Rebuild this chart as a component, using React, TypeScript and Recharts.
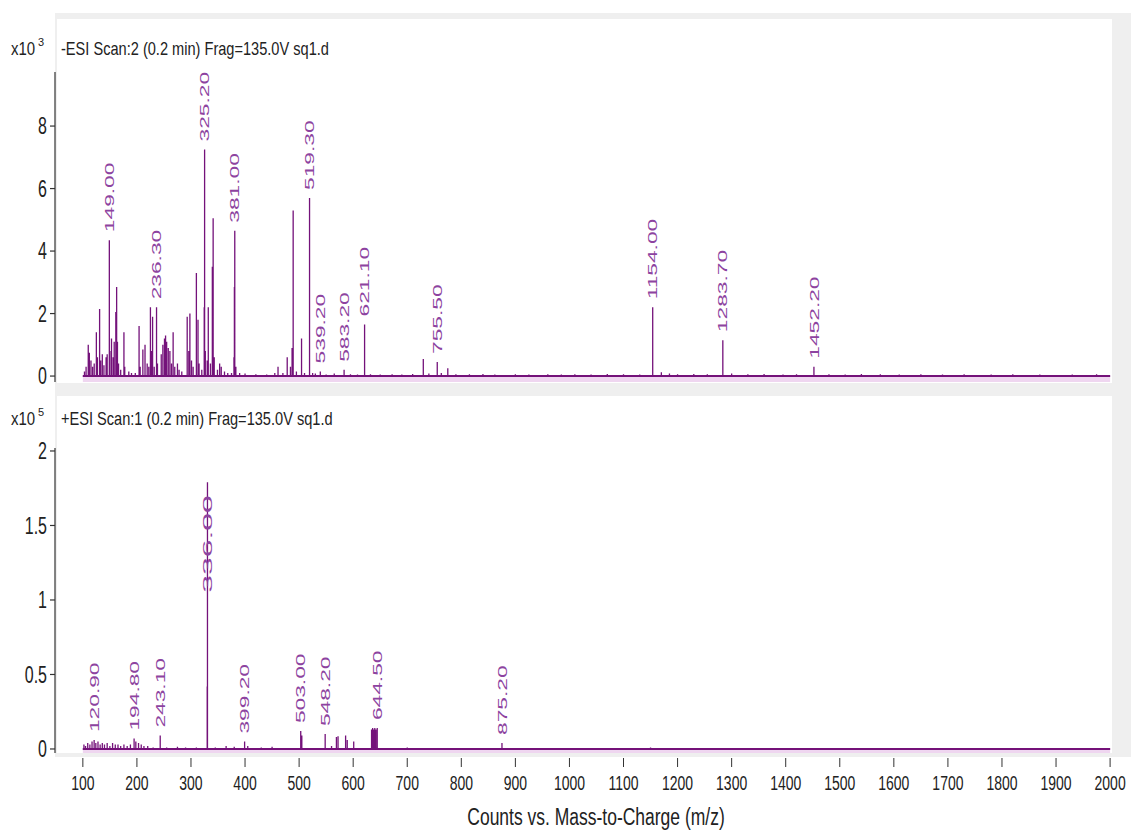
import React from 'react';
import {
    ComposedChart,
    Line,
    Scatter,
    XAxis,
    YAxis,
    ReferenceArea,
    ReferenceLine,
} from 'recharts';

const FONT = '"Liberation Sans", Arial, sans-serif';
const STICK = '#74127a';
const LABEL = '#8d43a0';
const PINK = '#efd6f0';
const AXIS = '#333333';

// -ESI Scan:2, counts x10^3
const negMz = [
    103, 106, 110, 112, 115, 118, 121, 125, 127, 131, 133, 136, 139, 143, 145, 149, 150, 153, 156, 158,
    161, 162.5, 164, 166, 170, 176, 177.5, 185, 190, 197, 204, 206, 211, 215, 219, 222, 225, 227, 229, 232,
    236.3, 238, 245, 248, 251, 253, 255, 258, 261, 264, 267, 270, 275, 278, 283, 293, 296, 298, 301, 304,
    310, 313, 315, 320, 324.5, 325.2, 326.5, 330, 332, 336, 339.5, 341, 343, 349, 353, 356, 362, 368, 375, 379.5,
    380.3, 381, 383, 390, 400, 420, 440, 455, 461, 470, 478, 484, 487, 489, 495, 504.5, 510, 519.3, 525, 530,
    539.2, 550, 565, 583.2, 595, 608, 621.1, 632, 650, 672, 690, 710, 729.7, 740, 755.5, 763, 775, 790, 815, 840,
    862, 900, 925, 960, 985, 1010, 1040, 1070, 1100, 1130, 1154, 1170, 1185, 1200, 1230, 1255, 1283.7, 1300, 1330, 1360,
    1395, 1420, 1452.2, 1480, 1510, 1540, 1575, 1610, 1650, 1690, 1730, 1780, 1820, 1870, 1930, 1975,
];
const negInt = [
    0.15, 0.3, 1.0, 0.75, 0.5, 0.3, 0.4, 1.4, 0.6, 2.15, 0.5, 0.7, 0.35, 0.6, 0.7, 4.35, 0.8, 1.2, 0.6, 1.1,
    2.05, 2.85, 1.1, 0.4, 0.2, 1.4, 0.3, 0.15, 0.1, 0.1, 1.6, 0.3, 0.85, 1.0, 0.4, 0.3, 2.2, 0.8, 1.9, 0.3,
    2.2, 0.4, 0.7, 1.0, 1.2, 1.3, 1.1, 0.9, 0.8, 0.4, 1.4, 0.3, 0.4, 0.2, 0.15, 1.9, 0.8, 2.0, 0.5, 0.3,
    3.3, 1.8, 0.4, 0.2, 2.2, 7.25, 0.8, 0.5, 2.2, 0.4, 3.5, 5.05, 0.6, 0.2, 0.4, 0.3, 0.15, 0.1, 0.1, 0.6,
    2.85, 4.65, 0.3, 0.1, 0.08, 0.06, 0.05, 0.1, 0.3, 0.1, 0.6, 0.3, 0.9, 5.3, 0.15, 1.2, 0.1, 5.7, 0.1, 0.08,
    0.15, 0.05, 0.08, 0.2, 0.06, 0.05, 1.65, 0.06, 0.05, 0.06, 0.05, 0.07, 0.55, 0.08, 0.45, 0.1, 0.25, 0.06, 0.06, 0.07,
    0.05, 0.06, 0.05, 0.06, 0.05, 0.06, 0.05, 0.07, 0.06, 0.05, 2.2, 0.12, 0.08, 0.06, 0.07, 0.06, 1.15, 0.08, 0.06, 0.07,
    0.05, 0.06, 0.3, 0.06, 0.05, 0.07, 0.06, 0.05, 0.06, 0.05, 0.06, 0.05, 0.06, 0.05, 0.05, 0.06,
];
const negLabelMz = [149, 236.3, 325.2, 381, 519.3, 539.2, 583.2, 621.1, 755.5, 1154, 1283.7, 1452.2];
const negLabels = ['149.00', '236.30', '325.20', '381.00', '519.30', '539.20', '583.20', '621.10', '755.50', '1154.00', '1283.70', '1452.20'];
const negTicks = [0, 2, 4, 6, 8];

// +ESI Scan:1, counts x10^5
const posMz = [
    102, 105, 109, 113, 117, 120.9, 124, 128, 132, 136, 140, 145, 150, 155, 160, 165, 170, 176, 182, 188,
    194.8, 198, 203, 208, 213, 220, 230, 243.1, 255, 275, 290, 310, 330, 330.5, 345, 365, 380, 399.2, 405, 430,
    450, 503, 505, 548.2, 560, 569, 572, 586, 589, 601, 634, 636, 638, 640, 642, 644.5, 700, 760, 875.2, 1150,
];
const posInt = [
    0.03, 0.02, 0.04, 0.03, 0.05, 0.06, 0.04, 0.05, 0.03, 0.04, 0.03, 0.04, 0.02, 0.04, 0.03, 0.03, 0.02, 0.03, 0.02, 0.03,
    0.07, 0.05, 0.04, 0.03, 0.02, 0.02, 0.01, 0.09, 0.01, 0.015, 0.01, 0.01, 0.42, 1.79, 0.01, 0.02, 0.015, 0.05, 0.02, 0.01,
    0.015, 0.12, 0.09, 0.1, 0.02, 0.08, 0.085, 0.09, 0.06, 0.05, 0.13, 0.14, 0.13, 0.14, 0.13, 0.14, 0.01, 0.005, 0.04, 0.01,
];
const posLabelMz = [120.9, 194.8, 243.1, 330.5, 399.2, 503, 548.2, 644.5, 875.2];
const posLabels = ['120.90', '194.80', '243.10', '336.00', '399.20', '503.00', '548.20', '644.50', '875.20'];
const posTicks = [0, 0.5, 1, 1.5, 2];

const mzTicks = [100, 200, 300, 400, 500, 600, 700, 800, 900, 1000, 1100, 1200, 1300, 1400, 1500, 1600, 1700, 1800, 1900, 2000];

const sticks = (mz: number[], val: number[]) => {
    const order = mz.map((_, i) => i).sort((a, b) => mz[a] - mz[b]);
    const pts: { mz: number; v: number }[] = [{ mz: 100, v: 0 }];
    order.forEach((i) => {
        pts.push({ mz: mz[i], v: 0 }, { mz: mz[i], v: val[i] }, { mz: mz[i], v: 0 });
    });
    pts.push({ mz: 2000, v: 0 });
    return pts;
};

const labelPoints = (lmz: number[], texts: string[], mz: number[], val: number[]) =>
    lmz.map((m, i) => ({ mz: m, v: val[mz.indexOf(m)], text: texts[i] }));

// label sits above the peak; if it would run off the top it is written down the line instead
const peakLabel = (plotTop: number) => (p: any) => {
    const { cx, cy, payload } = p;
    if (cx == null || cy == null) return <g />;
    const t: string = payload.text;
    const em = t.split('').reduce((s, c) => s + (c === '.' ? 0.278 : 0.556), 0) * 13;
    const len = em * 1.75;
    const inside = cy - 8 - len < plotTop - 12;
    const stretch = inside ? 2.45 : 1.75;
    const y = inside ? cy + 13 + em * stretch : cy - 8;
    return (
        <text
            transform={`translate(${cx + 4.6},${y}) rotate(-90) scale(${stretch},1)`}
            fontSize={13}
            fontFamily={FONT}
            fill={LABEL}
        >
            {t}
        </text>
    );
};

const yTick = (p: any) => {
    const { x, y, payload } = p;
    return (
        <g transform={`translate(${x},${y}) scale(1,1.45)`}>
            <text x={0} y={5.7} textAnchor="end" fontSize={16} fontFamily={FONT} fill="#222">
                {String(payload.value)}
            </text>
        </g>
    );
};

const xTick = (p: any) => {
    const { x, y, payload } = p;
    return (
        <g>
            <line x1={x} x2={x} y1={y + 5} y2={y + 14} stroke={AXIS} strokeWidth={1} />
            <g transform={`translate(${x},${y + 37}) scale(1,1.5)`}>
                <text x={0} y={0} textAnchor="middle" fontSize={14} fontFamily={FONT} fill="#222">
                    {String(payload.value)}
                </text>
            </g>
        </g>
    );
};

const Spectrum = ({
    mz, val, lmz, labels, ticks, yDomain, height, top, bottom, showX,
}: any) => {
    const data = sticks(mz, val);
    const lab = labelPoints(lmz, labels, mz, val);
    return (
        <ComposedChart
            width={1131}
            height={height}
            data={data}
            margin={{ top, right: 19, bottom, left: 5 }}
        >
            <XAxis
                type="number"
                dataKey="mz"
                domain={[48.5, 2003.5]}
                allowDataOverflow
                ticks={mzTicks}
                hide={!showX}
                axisLine={false}
                tickLine={false}
                tickSize={0}
                tickMargin={0}
                height={showX ? 80 : 0}
                tick={xTick}
                interval={0}
            />
            <YAxis
                type="number"
                domain={yDomain}
                allowDataOverflow
                ticks={ticks}
                width={50}
                axisLine={{ stroke: AXIS, strokeWidth: 1.2 }}
                tickLine={{ stroke: AXIS, strokeWidth: 1.2 }}
                tickSize={5}
                tickMargin={3}
                tick={yTick}
                interval={0}
            />
            <ReferenceArea x1={100} x2={2000} y1={yDomain[0]} y2={0} fill={PINK} fillOpacity={1} stroke="none" />
            <ReferenceLine segment={[{ x: 100, y: 0 }, { x: 2000, y: 0 }]} stroke={STICK} strokeWidth={2} />
            <Line
                type="linear"
                dataKey="v"
                stroke={STICK}
                strokeWidth={1.3}
                dot={false}
                activeDot={false}
                isAnimationActive={false}
            />
            <Scatter data={lab} dataKey="v" shape={peakLabel(top)} isAnimationActive={false} />
        </ComposedChart>
    );
};

const Title = ({ y, exp, text }: { y: number; exp: string; text: string }) => (
    <g>
        <g transform={`translate(11,${y}) scale(1,1.2)`}>
            <text fontSize={15} fontFamily={FONT} fill="#222">x10</text>
        </g>
        <text x={38} y={y - 9} fontSize={11} fontFamily={FONT} fill="#222">{exp}</text>
        <g transform={`translate(61,${y}) scale(1,1.2)`}>
            <text fontSize={14.6} fontFamily={FONT} fill="#222">{text}</text>
        </g>
    </g>
);

export default function App() {
    return (
        <div style={{ position: 'absolute', left: 0, top: 0, width: 1131, height: 833, background: '#fff', overflow: 'hidden' }}>
            <div style={{ position: 'absolute', left: 55, top: 13, width: 1076, height: 744, background: '#efefef' }} />
            <div style={{ position: 'absolute', left: 57, top: 19, width: 1055, height: 364, background: '#fff' }} />
            <div style={{ position: 'absolute', left: 57, top: 396, width: 1055, height: 357, background: '#fff' }} />
            <div style={{ position: 'absolute', left: 0, top: 0 }}>
                <Spectrum
                    mz={negMz}
                    val={negInt}
                    lmz={negLabelMz}
                    labels={negLabels}
                    ticks={negTicks}
                    yDomain={[-0.19, 9.73]}
                    height={390}
                    top={72}
                    bottom={8}
                    showX={false}
                />
            </div>
            <div style={{ position: 'absolute', left: 0, top: 390 }}>
                <Spectrum
                    mz={posMz}
                    val={posInt}
                    lmz={posLabelMz}
                    labels={posLabels}
                    ticks={posTicks}
                    yDomain={[-0.027, 2.02]}
                    height={443}
                    top={58}
                    bottom={0}
                    showX
                />
            </div>
            <svg width={1131} height={833} style={{ position: 'absolute', left: 0, top: 0, pointerEvents: 'none' }}>
                <Title y={55} exp="3" text="-ESI Scan:2 (0.2 min) Frag=135.0V sq1.d" />
                <Title y={425} exp="5" text="+ESI Scan:1 (0.2 min) Frag=135.0V sq1.d" />
                <g transform="translate(596,825) scale(1,1.35)">
                    <text textAnchor="middle" fontSize={17.5} fontFamily={FONT} fill="#222">
                        Counts vs. Mass-to-Charge (m/z)
                    </text>
                </g>
            </svg>
        </div>
    );
}
